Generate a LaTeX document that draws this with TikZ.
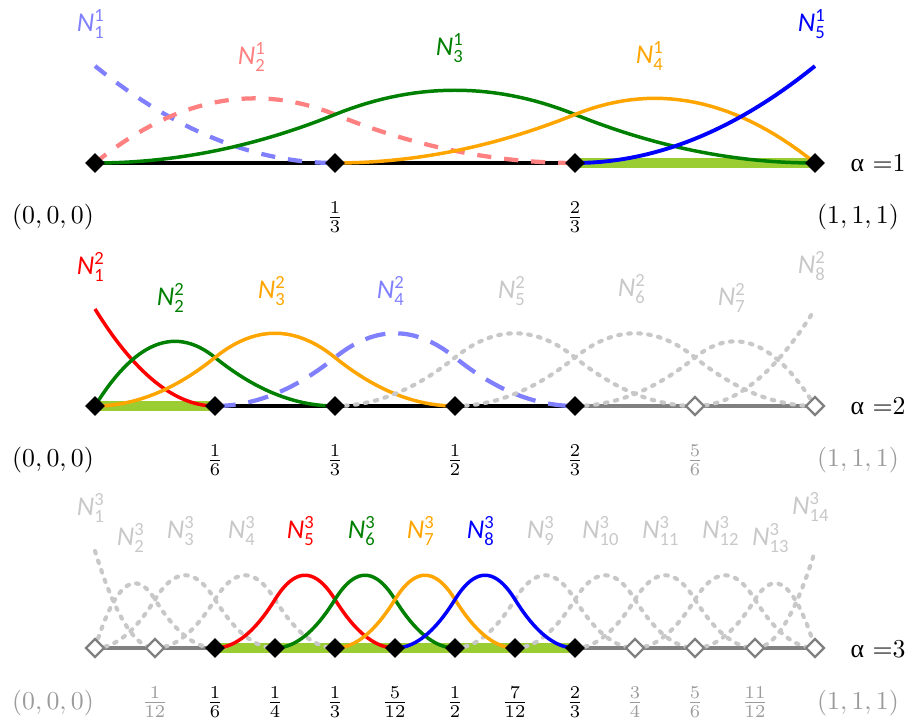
\documentclass[tikz,border=0pt]{standalone}
\usepackage{fontspec}
\usepackage{amsmath}
\newfontfamily\lab{Carlito}
\newfontfamily\grk{Liberation Serif}
\usetikzlibrary{shapes.geometric}
\definecolor{lblue}{RGB}{128,128,255}
\definecolor{lred}{RGB}{255,128,128}
\definecolor{dgreen}{RGB}{0,128,0}
\definecolor{orng}{RGB}{255,165,0}
\definecolor{ygreen}{RGB}{154,205,50}
\definecolor{dotgray}{RGB}{200,200,200}
\definecolor{labgray}{RGB}{200,200,200}
\definecolor{axgray}{RGB}{128,128,128}
\definecolor{fracgray}{RGB}{155,155,155}
\newcommand\Nl[2]{{\itshape N}$^{\hbox{\lab\fontsize{7.2}{8}\selectfont #2}}_{\hbox{\lab\fontsize{7.2}{8}\selectfont #1}}$}
\begin{document}
\begin{tikzpicture}[x=0.3876pt,y=-0.3876pt,
 declare function={
   bu(\u)=(\u<1)?(0.5*\u*\u):((\u<2)?(-\u*\u+3*\u-1.5):(0.5*(3-\u)*(3-\u)));
   bl(\u)=(\u<1)?(2*\u-1.5*\u*\u):(0.5*(2-\u)*(2-\u));
   be(\u)=(1-\u)*(1-\u);
 },
 cv/.style={line width=1.35pt},
 dsh/.style={line width=1.65pt, dash pattern=on 5.5pt off 5pt},
 dshlong/.style={line width=1.65pt, dash pattern=on 8pt off 5pt},
 dotc/.style={line width=1.6pt, dotgray, line cap=round, dash pattern=on 1pt off 2.9pt},
 axblack/.style={line width=1.4pt, black},
 axgrayl/.style={line width=1.6pt, axgray},
 hlbar/.style={line width=3.6pt, ygreen},
 kn/.style={diamond, fill=black, inner sep=0pt, minimum size=7.8pt},
 hk/.style={diamond, draw=axgray, fill=white, line width=0.9pt, inner sep=0pt, minimum size=7.4pt},
 lbl/.style={font=\lab\fontsize{10.5}{12}\selectfont, inner sep=0pt},
 ticklbl/.style={anchor=base, inner sep=0pt, font=\fontsize{10}{12}\selectfont},
 alph/.style={anchor=base west, inner sep=0pt, font=\fontsize{10}{12}\selectfont},
]
\useasboundingbox (0,0) rectangle (915,722);

% ---------------- Row 1 ----------------
\coordinate (a0) at (95,163);
\coordinate (a1) at (335,163);
\coordinate (a2) at (575,163);
\coordinate (a3) at (815,163);
\draw[axblack] (a0) -- (a2);
\draw[hlbar] (a2) -- (a3);
\draw[dsh,lblue] plot[domain=0:1,samples=31] ({95+240*\x},{163-97*be(\x)});
\draw[dsh,lred] plot[domain=0:2,samples=61] ({95+240*\x},{163-97*bl(\x)});
\draw[cv,dgreen] plot[domain=0:3,samples=91] ({95+240*\x},{163-97*bu(\x)});
\draw[cv,orng] plot[domain=1:3,samples=61] ({95+240*\x},{163-97*bl(3-\x)});
\draw[cv,blue,line width=1.5pt] plot[domain=2:3,samples=31] ({95+240*\x},{163-97*be(3-\x)});
\foreach \n in {a0,a1,a2,a3} \node[kn] (k\n) at (\n) {};
\node[lbl,text=lblue] (n11) at (91,24) {\Nl{1}{1}};
\node[lbl,text=lred] (n12) at (252,57) {\Nl{2}{1}};
\node[lbl,text=dgreen] (n13) at (450,48) {\Nl{3}{1}};
\node[lbl,text=orng] (n14) at (650,56) {\Nl{4}{1}};
\node[lbl,text=blue] (n15) at (812,24) {\Nl{5}{1}};
\node[alph] (al1) at (850,172) {{\grk α} =1};
\node[ticklbl] (t10) at (53,224) {$(0,0,0)$};
\node[ticklbl] (t11) at (335,224) {$\frac{1}{3}$};
\node[ticklbl] (t12) at (575,224) {$\frac{2}{3}$};
\node[ticklbl] (t13) at (858,224) {$(1,1,1)$};

% ---------------- Row 2 ----------------
\foreach \i/\px in {0/95,1/215,2/335,3/455,4/575,5/695,6/815}
  \coordinate (b\i) at (\px,406);
\draw[axblack] (b1) -- (b4);
\draw[axgrayl] (b4) -- (b6);
\draw[hlbar] (b0) -- (b1);
\draw[cv,red] plot[domain=0:1,samples=31] ({95+120*\x},{406-97*be(\x)});
\draw[cv,dgreen] plot[domain=0:2,samples=61] ({95+120*\x},{406-97*bl(\x)});
\draw[cv,orng] plot[domain=0:3,samples=61] ({95+120*\x},{406-97*bu(\x)});
\draw[dshlong,lblue] plot[domain=1:4,samples=61] ({95+120*\x},{406-97*bu(\x-1)});
\draw[dotc] plot[domain=2:5,samples=61] ({95+120*\x},{406-97*bu(\x-2)});
\draw[dotc] plot[domain=3:6,samples=61] ({95+120*\x},{406-97*bu(\x-3)});
\draw[dotc] plot[domain=4:6,samples=61] ({95+120*\x},{406-97*bl(6-\x)});
\draw[dotc] plot[domain=5:6,samples=31] ({95+120*\x},{406-97*be(6-\x)});
\foreach \i in {0,1,2,3,4} \node[kn] (kb\i) at (b\i) {};
\foreach \i in {5,6} \node[hk] (kb\i) at (b\i) {};
\node[lbl,text=red] (n21) at (91,267) {\Nl{1}{2}};
\node[lbl,text=dgreen] (n22) at (171,298) {\Nl{2}{2}};
\node[lbl,text=orng] (n23) at (272,291) {\Nl{3}{2}};
\node[lbl,text=lblue] (n24) at (391,291) {\Nl{4}{2}};
\node[lbl,text=labgray] (n25) at (512,291) {\Nl{5}{2}};
\node[lbl,text=labgray] (n26) at (632,289) {\Nl{6}{2}};
\node[lbl,text=labgray] (n27) at (732,298) {\Nl{7}{2}};
\node[lbl,text=labgray] (n28) at (812,266) {\Nl{8}{2}};
\node[alph] (al2) at (850,415) {{\grk α} =2};
\node[ticklbl] (t20) at (53,467) {$(0,0,0)$};
\node[ticklbl] (t21) at (215,467) {$\frac{1}{6}$};
\node[ticklbl] (t22) at (335,467) {$\frac{1}{3}$};
\node[ticklbl] (t23) at (455,467) {$\frac{1}{2}$};
\node[ticklbl] (t24) at (575,467) {$\frac{2}{3}$};
\node[ticklbl,text=fracgray] (t25) at (695,467) {$\frac{5}{6}$};
\node[ticklbl,text=fracgray] (t26) at (858,467) {$(1,1,1)$};

% ---------------- Row 3 ----------------
\foreach \i in {0,...,12} \coordinate (c\i) at ({95+60*\i},648);
\draw[axgrayl] (c0) -- (c2);
\draw[axgrayl] (c8) -- (c12);
\draw[hlbar] (c2) -- (c8);
\draw[dotc] plot[domain=0:1,samples=31] ({95+60*\x},{648-97*be(\x)});
\draw[dotc] plot[domain=0:2,samples=61] ({95+60*\x},{648-97*bl(\x)});
\foreach \a/\b in {0/3,1/4,6/9,7/10,8/11,9/12}
  \draw[dotc] plot[domain=\a:\b,samples=61] ({95+60*\x},{648-97*bu(\x-\a)});
\draw[dotc] plot[domain=10:12,samples=61] ({95+60*\x},{648-97*bl(12-\x)});
\draw[dotc] plot[domain=11:12,samples=31] ({95+60*\x},{648-97*be(12-\x)});
\draw[cv,red] plot[domain=2:5,samples=61] ({95+60*\x},{648-97*bu(\x-2)});
\draw[cv,dgreen] plot[domain=3:6,samples=61] ({95+60*\x},{648-97*bu(\x-3)});
\draw[cv,orng] plot[domain=4:7,samples=61] ({95+60*\x},{648-97*bu(\x-4)});
\draw[cv,blue] plot[domain=5:8,samples=61] ({95+60*\x},{648-97*bu(\x-5)});
\foreach \i in {0,1,9,10,11,12} \node[hk] (kc\i) at (c\i) {};
\foreach \i in {2,...,8} \node[kn] (kc\i) at (c\i) {};
\node[lbl,text=labgray] (n31) at (91,508) {\Nl{1}{3}};
\node[lbl,text=labgray] (n32) at (131,538) {\Nl{2}{3}};
\node[lbl,text=labgray] (n33) at (181,531) {\Nl{3}{3}};
\node[lbl,text=labgray] (n34) at (242,531) {\Nl{4}{3}};
\node[lbl,text=red] (n35) at (301,531) {\Nl{5}{3}};
\node[lbl,text=dgreen] (n36) at (362,531) {\Nl{6}{3}};
\node[lbl,text=orng] (n37) at (421,531) {\Nl{7}{3}};
\node[lbl,text=blue] (n38) at (481,531) {\Nl{8}{3}};
\node[lbl,text=labgray] (n39) at (541,531) {\Nl{9}{3}};
\node[lbl,text=labgray] (n310) at (601,531) {\Nl{10}{3}};
\node[lbl,text=labgray] (n311) at (661,531) {\Nl{11}{3}};
\node[lbl,text=labgray] (n312) at (721,531) {\Nl{12}{3}};
\node[lbl,text=labgray] (n313) at (771,538) {\Nl{13}{3}};
\node[lbl,text=labgray] (n314) at (811,507) {\Nl{14}{3}};
\node[alph] (al3) at (850,657) {{\grk α} =3};
\node[ticklbl,text=fracgray] (t30) at (53,709) {$(0,0,0)$};
\node[ticklbl,text=fracgray] (t31) at (155,709) {$\frac{1}{12}$};
\node[ticklbl] (t32) at (215,709) {$\frac{1}{6}$};
\node[ticklbl] (t33) at (275,709) {$\frac{1}{4}$};
\node[ticklbl] (t34) at (335,709) {$\frac{1}{3}$};
\node[ticklbl] (t35) at (395,709) {$\frac{5}{12}$};
\node[ticklbl] (t36) at (455,709) {$\frac{1}{2}$};
\node[ticklbl] (t37) at (515,709) {$\frac{7}{12}$};
\node[ticklbl] (t38) at (575,709) {$\frac{2}{3}$};
\node[ticklbl,text=fracgray] (t39) at (635,709) {$\frac{3}{4}$};
\node[ticklbl,text=fracgray] (t310) at (695,709) {$\frac{5}{6}$};
\node[ticklbl,text=fracgray] (t311) at (755,709) {$\frac{11}{12}$};
\node[ticklbl,text=fracgray] (t312) at (858,709) {$(1,1,1)$};
\end{tikzpicture}
\end{document}
